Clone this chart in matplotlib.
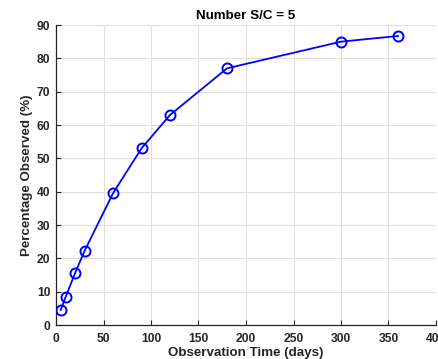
import matplotlib
matplotlib.use("Agg")
import matplotlib.pyplot as plt

# Observation time (days) vs percentage of targets observed
obs_days = [5, 10, 20, 30, 60, 90, 120, 180, 300, 360]
pct_observed = [4.5, 8.3, 15.5, 22.2, 39.5, 53.0, 63.0, 77.0, 85.0, 86.7]
x_ticks = [0, 50, 100, 150, 200, 250, 300, 350, 400]
y_ticks = [0, 10, 20, 30, 40, 50, 60, 70, 80, 90]

plt.rcParams['font.family'] = ['Liberation Sans', 'DejaVu Sans']
plt.rcParams['font.weight'] = 'bold'

fig = plt.figure(figsize=(4.39, 3.59), dpi=100)
ax = fig.add_axes([56/439, 34/359, 380/439, 300/359])

ax.plot(obs_days, pct_observed, color='#0000ff', lw=1.3, marker='o',
        markersize=7.2, markerfacecolor='none', markeredgewidth=1.4,
        markeredgecolor='#0000ff', zorder=3)

ax.set_xlim(0, 400)
ax.set_ylim(0, 90)
ax.set_xticks(x_ticks)
ax.set_yticks(y_ticks)
ax.grid(True, color='#dfdfdf', lw=0.8)
ax.set_axisbelow(True)

for side in ('top', 'right'):
    ax.spines[side].set_visible(False)
for side in ('left', 'bottom'):
    ax.spines[side].set_color('#262626')
    ax.spines[side].set_linewidth(0.9)

ax.tick_params(direction='in', length=3.5, width=0.8, colors='#262626',
               labelsize=8.7)
ax.tick_params(axis='x', pad=6)
ax.tick_params(axis='y', pad=4)
for lbl in ax.get_xticklabels() + ax.get_yticklabels():
    lbl.set_fontweight('bold')

ax.set_xlabel('Observation Time (days)', fontsize=9.6, fontweight='bold',
              color='#262626', labelpad=1.5)
ax.set_ylabel('Percentage Observed (%)', fontsize=9.6, fontweight='bold',
              color='#262626', labelpad=3)
ax.set_title('Number S/C = 5', fontsize=9.6, fontweight='bold', color='black',
             pad=4)

fig.savefig('out.png', dpi=100)
